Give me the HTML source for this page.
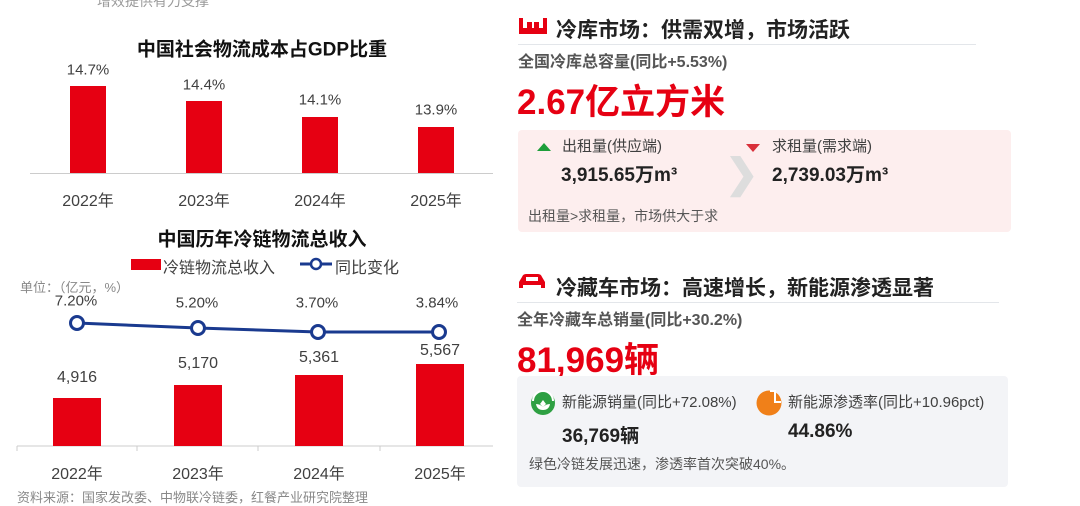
<!DOCTYPE html><html><head><meta charset="utf-8"><style>
body{margin:0;width:1080px;height:503px;background:#fff;position:relative;overflow:hidden;font-family:"Liberation Sans","Noto Sans CJK SC",sans-serif;color:#404040}
.a{position:absolute;white-space:nowrap}
.c{transform:translate(-50%,-50%)}
.bar{position:absolute;background:#e60012}
.t{font-weight:bold;color:#111}
</style></head><body>
<div class="a" style="left:97px;top:-9px;font-size:14px;color:#999">增效提供有力支撑</div>
<div class="a c t" style="left:262px;top:48px;font-size:19px">中国社会物流成本占GDP比重</div>
<div class="bar" style="left:70px;top:86px;width:36px;height:87px"></div>
<div class="bar" style="left:186px;top:101px;width:36px;height:72px"></div>
<div class="bar" style="left:302px;top:117px;width:36px;height:56px"></div>
<div class="bar" style="left:418px;top:127px;width:36px;height:46px"></div>
<div class="a" style="left:30px;top:173px;width:463px;height:1px;background:#ccc"></div>
<div class="a c" style="left:88px;top:70px;font-size:15px">14.7%</div>
<div class="a c" style="left:204px;top:85px;font-size:15px">14.4%</div>
<div class="a c" style="left:320px;top:100px;font-size:15px">14.1%</div>
<div class="a c" style="left:436px;top:110px;font-size:15px">13.9%</div>
<div class="a c" style="left:88px;top:199px;font-size:16px">2022年</div>
<div class="a c" style="left:204px;top:199px;font-size:16px">2023年</div>
<div class="a c" style="left:320px;top:199px;font-size:16px">2024年</div>
<div class="a c" style="left:436px;top:199px;font-size:16px">2025年</div>
<div class="a c t" style="left:262px;top:238px;font-size:19px">中国历年冷链物流总收入</div>
<div class="a" style="left:131px;top:259px;width:30px;height:11px;background:#e60012"></div>
<div class="a" style="left:163px;top:254px;font-size:16px">冷链物流总收入</div>
<svg class="a" style="left:298px;top:256px" width="36" height="16"><line x1="2" y1="8" x2="34" y2="8" stroke="#1a3a8f" stroke-width="3"/><circle cx="18" cy="8" r="5" fill="#fff" stroke="#1a3a8f" stroke-width="2.5"/></svg>
<div class="a" style="left:335px;top:254px;font-size:16px">同比变化</div>
<div class="a" style="left:20px;top:277px;font-size:13px;color:#888">单位：（亿元，%）</div>
<div class="a c" style="left:76px;top:301px;font-size:15px">7.20%</div>
<div class="a c" style="left:197px;top:303px;font-size:15px">5.20%</div>
<div class="a c" style="left:317px;top:303px;font-size:15px">3.70%</div>
<div class="a c" style="left:437px;top:303px;font-size:15px">3.84%</div>
<svg class="a" style="left:0;top:0" width="500" height="503"><polyline points="77,323 198,328 318,332 439,332" fill="none" stroke="#1a3a8f" stroke-width="3"/><g fill="#fff" stroke="#1a3a8f" stroke-width="3"><circle cx="77" cy="323" r="6.5"/><circle cx="198" cy="328" r="6.5"/><circle cx="318" cy="332" r="6.5"/><circle cx="439" cy="332" r="6.5"/></g><line x1="17" y1="446" x2="493" y2="446" stroke="#ccc"/><g stroke="#ccc"><line x1="17" y1="446" x2="17" y2="451"/><line x1="137" y1="446" x2="137" y2="451"/><line x1="258" y1="446" x2="258" y2="451"/><line x1="380" y1="446" x2="380" y2="451"/></g></svg>
<div class="bar" style="left:53px;top:398px;width:48px;height:48px"></div>
<div class="bar" style="left:174px;top:385px;width:48px;height:61px"></div>
<div class="bar" style="left:295px;top:375px;width:48px;height:71px"></div>
<div class="bar" style="left:416px;top:364px;width:48px;height:82px"></div>
<div class="a c" style="left:77px;top:378px;font-size:16px">4,916</div>
<div class="a c" style="left:198px;top:364px;font-size:16px">5,170</div>
<div class="a c" style="left:319px;top:358px;font-size:16px">5,361</div>
<div class="a c" style="left:440px;top:351px;font-size:16px">5,567</div>
<div class="a c" style="left:77px;top:472px;font-size:16px">2022年</div>
<div class="a c" style="left:198px;top:472px;font-size:16px">2023年</div>
<div class="a c" style="left:319px;top:472px;font-size:16px">2024年</div>
<div class="a c" style="left:440px;top:472px;font-size:16px">2025年</div>
<div class="a" style="left:17px;top:487px;font-size:13px;color:#888">资料来源：国家发改委、中物联冷链委，红餐产业研究院整理</div>

<svg class="a" style="left:519px;top:16px" width="28" height="18"><path d="M0 2h4v10h20v-10h4v16h-28z M8 6h5v6h-5z M15 6h5v6h-5z" fill="#e60012"/></svg>
<div class="a t" style="left:556px;top:14px;font-size:21px;color:#222">冷库市场：供需双增，市场活跃</div>
<div class="a" style="left:518px;top:44px;width:458px;height:1px;background:#e3e6ea"></div>
<div class="a" style="left:518px;top:48px;font-size:16px;font-weight:bold;color:#555">全国冷库总容量(同比+5.53%)</div>
<div class="a" style="left:517px;top:74px;font-size:35px;font-weight:bold;color:#e60012">2.67亿立方米</div>
<div class="a" style="left:518px;top:130px;width:493px;height:102px;background:#fdeeee;border-radius:4px"></div>
<div class="a" style="left:537px;top:143px;width:0;height:0;border-left:7px solid transparent;border-right:7px solid transparent;border-bottom:8px solid #1e9e3a"></div>
<div class="a" style="left:562px;top:135px;font-size:15px">出租量(供应端)</div>
<div class="a" style="left:561px;top:160px;font-size:19px;font-weight:bold;color:#222">3,915.65万m³</div>
<div class="a" style="left:725px;top:151px;font-size:40px;color:#ddd;font-weight:bold">❯</div>
<div class="a" style="left:746px;top:144px;width:0;height:0;border-left:7px solid transparent;border-right:7px solid transparent;border-top:8px solid #d9303a"></div>
<div class="a" style="left:772px;top:135px;font-size:15px">求租量(需求端)</div>
<div class="a" style="left:772px;top:160px;font-size:19px;font-weight:bold;color:#222">2,739.03万m³</div>
<div class="a" style="left:528px;top:206px;font-size:14px;color:#555">出租量>求租量，市场供大于求</div>

<svg class="a" style="left:518px;top:273px" width="28" height="18"><path d="M4 4q1-3 4-3h12q3 0 4 3l3 5v6h-4v-3h-18v3h-4v-6z" fill="#e60012"/><rect x="8" y="4" width="12" height="4" fill="#fff"/></svg>
<div class="a t" style="left:556px;top:272px;font-size:21px;color:#222">冷藏车市场：高速增长，新能源渗透显著</div>
<div class="a" style="left:517px;top:302px;width:482px;height:1px;background:#e3e6ea"></div>
<div class="a" style="left:517px;top:306px;font-size:16px;font-weight:bold;color:#555">全年冷藏车总销量(同比+30.2%)</div>
<div class="a" style="left:517px;top:332px;font-size:35px;font-weight:bold;color:#e60012">81,969辆</div>
<div class="a" style="left:517px;top:376px;width:491px;height:111px;background:#f3f4f7;border-radius:4px"></div>
<svg class="a" style="left:530px;top:390px" width="26" height="26"><circle cx="13" cy="13" r="12" fill="#2ea043"/><path d="M3 11a10 10 0 0 1 20 0" fill="none" stroke="#fff" stroke-width="2"/><path d="M6 14q4 0 7 3q3-3 7-3q-1 6-7 6q-6 0-7-6z M13 10l3 4l-3 3l-3-3z" fill="#fff"/></svg>
<div class="a" style="left:562px;top:391px;font-size:15px">新能源销量(同比+72.08%)</div>
<div class="a" style="left:562px;top:421px;font-size:19px;font-weight:bold;color:#222">36,769辆</div>
<svg class="a" style="left:756px;top:390px" width="26" height="26"><circle cx="13" cy="13" r="12.5" fill="#f08019"/><path d="M14 1h5v11h6" fill="none" stroke="#fff" stroke-width="2"/></svg>
<div class="a" style="left:788px;top:391px;font-size:15px">新能源渗透率(同比+10.96pct)</div>
<div class="a" style="left:788px;top:421px;font-size:19px;font-weight:bold;color:#222">44.86%</div>
<div class="a" style="left:529px;top:454px;font-size:14px;color:#555">绿色冷链发展迅速，渗透率首次突破40%。</div>
</body></html>
